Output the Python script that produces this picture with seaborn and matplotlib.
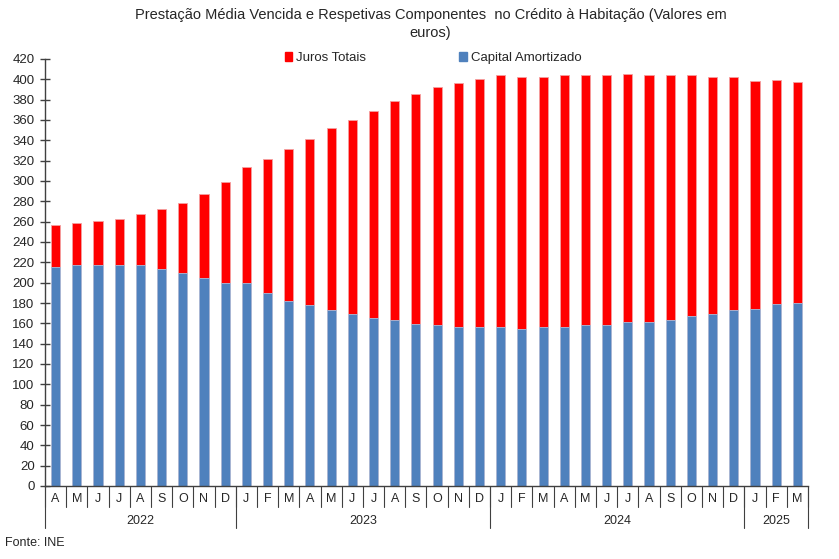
import numpy as np
import pandas as pd
import seaborn as sns
import matplotlib.pyplot as plt
from matplotlib.patches import Patch

# months April 2022 - March 2025
meses = ['A', 'M', 'J', 'J', 'A', 'S', 'O', 'N', 'D',
         'J', 'F', 'M', 'A', 'M', 'J', 'J', 'A', 'S', 'O', 'N', 'D',
         'J', 'F', 'M', 'A', 'M', 'J', 'J', 'A', 'S', 'O', 'N', 'D',
         'J', 'F', 'M']
anos = ['2022', '2023', '2024', '2025']
meses_por_ano = [9, 12, 12, 3]

capital = [215, 217, 217, 217, 217, 213, 210, 205, 200,
           200, 190, 182, 178, 173, 169, 165, 163, 159, 158, 156, 156,
           156, 154, 156, 156, 158, 158, 161, 161, 163, 167, 169, 173,
           174, 179, 180]
juros = [42, 42, 44, 46, 51, 59, 68, 82, 99,
         114, 132, 149, 163, 179, 191, 204, 216, 227, 234, 240, 244,
         248, 248, 246, 248, 246, 246, 244, 243, 241, 237, 233, 229,
         224, 220, 217]

red = '#FF0000'
blue = '#4F81BD'

df = pd.DataFrame({'periodo': [str(i) for i in range(len(meses))],
                   'capital': capital, 'juros': juros})
df['total'] = df['capital'] + df['juros']

sns.set_style('white')
plt.rcParams['font.family'] = ['Liberation Sans', 'DejaVu Sans']

fig = plt.figure(figsize=(8.39, 5.59), dpi=100)
ax = fig.add_axes([45 / 839, 73 / 559, 763 / 839, 427 / 559])

# stacked: total in red, capital in blue over it
sns.barplot(data=df, x='periodo', y='total', color=red, saturation=1,
            width=0.43, ax=ax, linewidth=0.6, edgecolor='#F4A0A0')
sns.barplot(data=df, x='periodo', y='capital', color=blue, saturation=1,
            width=0.43, ax=ax, linewidth=0.6, edgecolor='#A9BEDC')

ax.set_xlim(-0.5, len(meses) - 0.5)
ax.set_ylim(0, 420)
ax.set_yticks(np.arange(0, 421, 20))
ax.set_xticks(range(len(meses)))
ax.set_xticklabels(meses)
ax.set_xlabel('')
ax.set_ylabel('')

for s in ['top', 'right']:
    ax.spines[s].set_visible(False)
for s in ['left', 'bottom']:
    ax.spines[s].set_color('#404040')
    ax.spines[s].set_linewidth(1)

ax.tick_params(axis='y', direction='inout', length=7, width=1, color='#404040',
               labelsize=9.5, pad=4, left=True)
ax.tick_params(axis='x', length=0, labelsize=9, pad=5)

# month separators and year separators below the axis
tr = ax.get_xaxis_transform()
for k in range(len(meses) + 1):
    ax.plot([k - 0.5, k - 0.5], [0, -0.05], transform=tr, color='#404040',
            lw=0.8, clip_on=False)
inicio = 0
for ano, n in zip(anos, meses_por_ano):
    ax.plot([inicio - 0.5, inicio - 0.5], [0, -0.099], transform=tr,
            color='#404040', lw=0.8, clip_on=False)
    ax.text(inicio + (n - 1) / 2, -0.082, ano, transform=tr, ha='center',
            va='center', fontsize=9)
    inicio += n
ax.plot([inicio - 0.5, inicio - 0.5], [0, -0.099], transform=tr,
        color='#404040', lw=0.8, clip_on=False)

fig.text(0.513, 0.985, 'Prestação Média Vencida e Respetivas Componentes  no Crédito à Habitação (Valores em\neuros)',
         ha='center', va='top', fontsize=10.5, linespacing=1.35)

handles = [Patch(color=red, label='Juros Totais'),
           Patch(color=blue, label='Capital Amortizado')]
fig.legend(handles=handles, loc='center', bbox_to_anchor=(0.516, 0.896),
           ncol=2, frameon=False, fontsize=9.5, handlelength=0.6,
           handleheight=0.6, handletextpad=0.3, columnspacing=7)

fig.text(0.006, 0.029, 'Fonte: INE', ha='left', va='center', fontsize=9)

plt.savefig('out.png', dpi=100)
